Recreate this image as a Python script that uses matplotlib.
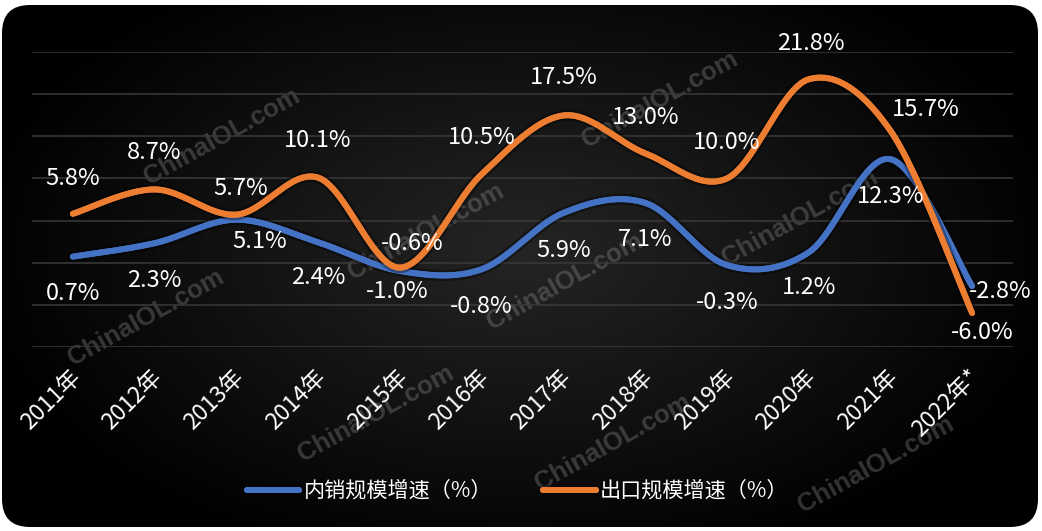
import numpy as np
import matplotlib
matplotlib.use('Agg')
import matplotlib.pyplot as plt
from matplotlib.patches import FancyBboxPatch
from matplotlib.transforms import ScaledTranslation
import matplotlib.patheffects as pe

plt.rcParams['font.family'] = ['Noto Sans CJK SC', 'DejaVu Sans']

# ---------------- data ----------------
years = ['2011年', '2012年', '2013年', '2014年', '2015年', '2016年',
         '2017年', '2018年', '2019年', '2020年', '2021年', '2022年*']
domestic = [0.7, 2.3, 5.1, 2.4, -1.0, -0.8, 5.9, 7.1, -0.3, 1.2, 12.3, -2.8]
export = [5.8, 8.7, 5.7, 10.1, -0.6, 10.5, 17.5, 13.0, 10.0, 21.8, 15.7, -6.0]
domestic_name = '内销规模增速（%）'
export_name = '出口规模增速（%）'

# label offsets (pixels) relative to each point
dom_offsets = [(0, -37), (0, -37), (23, -22), (0, -35), (-3, -21), (0, -37),
               (0, -38), (0, -37), (0, -37), (0, -35), (0, -37), (28, -5)]
exp_offsets = [(0, 35), (0, 37), (4, 26), (0, 37), (12, 24), (0, 37),
               (0, 38), (0, 36), (0, 36), (2, 36), (35, 21), (10, -20)]

BLUE = '#4472C4'
ORANGE = '#ED7D31'
W, H = 1042, 531

fig = plt.figure(figsize=(W / 100, H / 100), dpi=100)
fig.patch.set_facecolor('white')

# ---------------- background ----------------
bg = fig.add_axes([0, 0, 1, 1])
bg.set_xlim(0, W)
bg.set_ylim(H, 0)
bg.axis('off')
yy, xx = np.mgrid[0:H, 0:W]
d = np.sqrt(((xx - 520) / 560.0) ** 2 + ((yy - 250) / 330.0) ** 2)
c = np.clip(1 - d, 0, 1) * 0.145
img = np.dstack([c, c, c])
im = bg.imshow(img, extent=(0, W, H, 0), interpolation='bilinear', aspect='auto', zorder=0)
box = FancyBboxPatch((2, 5), 1036, 522, boxstyle='round,pad=0,rounding_size=28',
                     transform=bg.transData, facecolor='none', edgecolor='none')
bg.add_patch(box)
im.set_clip_path(box)

# watermarks
wm_centers = [(222, 137), (426, 232), (660, 100), (565, 282), (800, 218),
              (146, 318), (376, 414), (613, 443), (876, 465)]
for (px, py) in wm_centers:
    fig.text(px / W, 1 - py / H, 'ChinaIOL.com', rotation=29, rotation_mode='anchor',
             ha='center', va='center', fontsize=18.5, fontweight='bold',
             family='Liberation Sans', color='#9a9a9a', alpha=0.32, zorder=1)

# ---------------- main axes ----------------
ax = fig.add_axes([32 / W, (H - 347) / H, 981 / W, 295 / H])
ax.set_facecolor('none')
ax.set_zorder(2)
for s in ax.spines.values():
    s.set_visible(False)
ax.set_xlim(-0.5, len(years) - 0.5)
ax.set_ylim(-10.05, 25.05)
ax.set_yticks(np.arange(-10, 26, 5))
ax.yaxis.grid(True, color='#3a3a3a', lw=1.1)
ax.set_axisbelow(True)
ax.tick_params(axis='y', left=False, labelleft=False)
ax.set_xticks(range(len(years)))
ax.set_xticklabels(years, rotation=45, ha='right', va='center', rotation_mode='anchor',
                   color='white', fontsize=16.5)
ax.tick_params(axis='x', length=0, pad=19)
for lab in ax.get_xticklabels():
    lab.set_transform(lab.get_transform() + ScaledTranslation(4 / 100, 0, fig.dpi_scale_trans))


def smooth(vals, n=50):
    y = np.asarray(vals, float)
    x = np.arange(len(y), dtype=float)
    P = np.column_stack([x, y])
    ext = np.vstack([P[0], P, P[-1]])
    pts = []
    t = np.linspace(0, 1, n)[:, None]
    for i in range(len(P) - 1):
        p0, p3 = P[i], P[i + 1]
        c1 = p0 + (ext[i + 2] - ext[i]) / 6.0
        c2 = p3 - (ext[i + 3] - ext[i + 1]) / 6.0
        seg = (1 - t) ** 3 * p0 + 3 * (1 - t) ** 2 * t * c1 + 3 * (1 - t) * t ** 2 * c2 + t ** 3 * p3
        pts.append(seg if i == 0 else seg[1:])
    return np.vstack(pts)


shadow = [pe.withStroke(linewidth=8, foreground=(0, 0, 0, 0.35)), pe.Normal()]
handles = []
for vals, col, name in [(domestic, BLUE, domestic_name), (export, ORANGE, export_name)]:
    sm = smooth(vals)
    ln, = ax.plot(sm[:, 0], sm[:, 1], color=col, lw=4.3, solid_capstyle='round',
                  path_effects=shadow, label=name, zorder=3)
    handles.append(ln)

for vals, offs in [(domestic, dom_offsets), (export, exp_offsets)]:
    for i, (v, (dx, dy)) in enumerate(zip(vals, offs)):
        ax.annotate(f'{v:.1f}%', (i, v), xytext=(dx, dy), textcoords='offset pixels',
                    ha='center', va='center', color='white', fontsize=17, zorder=4,
                    annotation_clip=False)

fig.legend(handles, [domestic_name, export_name], loc='center',
           bbox_to_anchor=(517.5 / W, 1 - 491 / H), ncol=2, frameon=False,
           fontsize=15.2, handlelength=2.5, handletextpad=0.2, columnspacing=2.4,
           labelcolor='white')

fig.savefig('out.png', dpi=100, facecolor='white')
